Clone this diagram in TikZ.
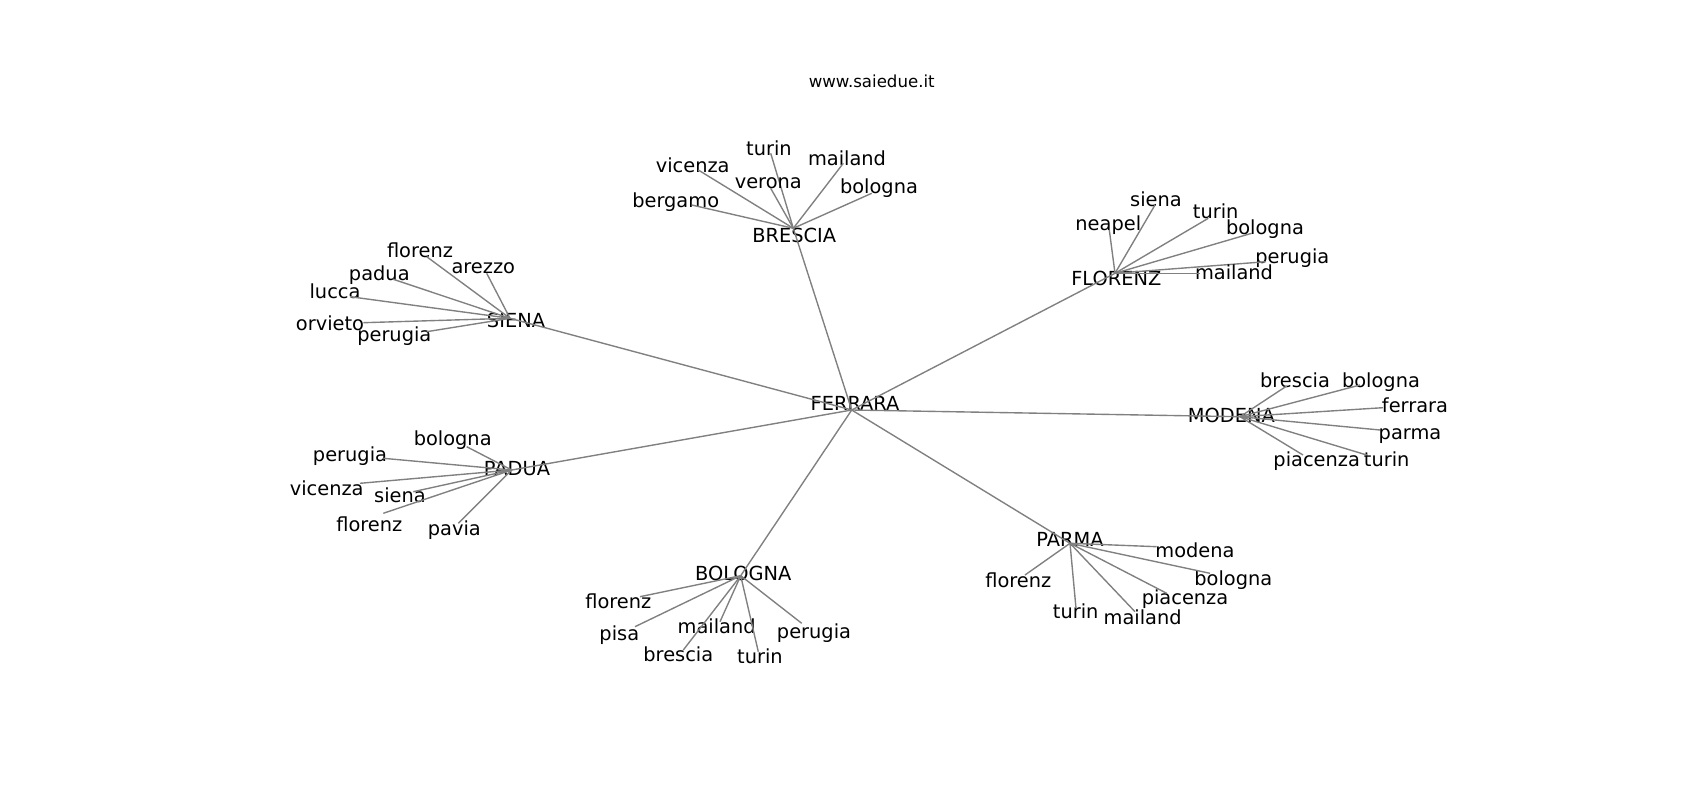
\documentclass[tikz,border=0pt]{standalone}
\usepackage{fontspec}
\setmainfont{DejaVu Sans}
\begin{document}
\begin{tikzpicture}[x=0.01in,y=-0.01in,
    road/.style={draw=black!50,line width=1pt},
    city/.style={inner sep=0pt,text height=0.76em,text depth=0.21em,yshift=-2.5pt,font=\fontsize{14}{17}\selectfont}]
		% Rahmen
		\useasboundingbox (0,0) rectangle (1700,800);
		% Titel
		\node[font=\fontsize{12}{14}\selectfont] (title) at (871.7,81.7) {www.saiedue.it};
		% Zentrum
		\coordinate (ferrara) at (851.7,410);
		\node[city] (ferrara-txt) at (855,403.3) {FERRARA};
		% Knoten um das Zentrum
		\coordinate (brescia) at (793.3,228.3);
		\coordinate (siena) at (510,318.3);
		\coordinate (florenz) at (1115,273.3);
		\coordinate (modena) at (1240,416.7);
		\coordinate (padua) at (511.7,470);
		\coordinate (bologna) at (740.7,575.7);
		\coordinate (parma) at (1070,543.3);
		\node[city] (brescia-txt) at (794.3,235) {BRESCIA};
		\node[city] (siena-txt) at (516,320) {SIENA};
		\node[city] (florenz-txt) at (1116.3,278.3) {FLORENZ};
		\node[city] (modena-txt) at (1231.3,415.7) {MODENA};
		\node[city] (padua-txt) at (517,468) {PADUA};
		\node[city] (bologna-txt) at (743.3,573.3) {BOLOGNA};
		\node[city] (parma-txt) at (1070,539.3) {PARMA};
		% Verbindungen vom Zentrum
		\foreach \h in {brescia,siena,florenz,modena,padua,bologna,parma}
			\draw[road] (ferrara) -- (\h);
		% Blaetter BRESCIA
		\foreach \t/\vx/\vy/\lx/\ly in {turin/770.7/153.3/769/148.3, vicenza/698.3/170/692.7/165,
			verona/770.7/188.3/768.3/181, mailand/843.3/163.3/847/158,
			bologna/871.7/193.3/879/186.7, bergamo/691.7/205/675.7/200}{
			\coordinate (brescia-\t) at (\vx,\vy);
			\node[city] (brescia-\t-txt) at (\lx,\ly) {\t};
			\draw[road] (brescia) -- (brescia-\t);
		}
		% Blaetter SIENA
		\foreach \t/\vx/\vy/\lx/\ly in {florenz/426.7/256.7/420/250, arezzo/486.7/273.3/483.3/266.7,
			padua/393.3/279.3/379.3/273.3, lucca/350/296.7/335/291.7,
			orvieto/363.3/322.7/330/323.3, perugia/426.7/331.7/394.3/334}{
			\coordinate (siena-\t) at (\vx,\vy);
			\node[city] (siena-\t-txt) at (\lx,\ly) {\t};
			\draw[road] (siena) -- (siena-\t);
		}
		% Blaetter FLORENZ
		\foreach \t/\vx/\vy/\lx/\ly in {neapel/1109.3/230/1108.3/223.3, siena/1155/205/1156/199.3,
			turin/1208.3/218.3/1215.7/211.7, bologna/1251.7/233.3/1265/227.7,
			perugia/1266/261.7/1292.3/256.7, mailand/1200/273.3/1234/272.3}{
			\coordinate (florenz-\t) at (\vx,\vy);
			\node[city] (florenz-\t-txt) at (\lx,\ly) {\t};
			\draw[road] (florenz) -- (florenz-\t);
		}
		% Blaetter MODENA
		\foreach \t/\vx/\vy/\lx/\ly in {brescia/1286.7/386/1295/380.7, bologna/1360/385/1381/380,
			ferrara/1383/407.7/1415/405.7, parma/1380/430/1410/432.7,
			turin/1366.7/455/1386.7/459.3, piacenza/1303/455/1316.7/459.3}{
			\coordinate (modena-\t) at (\vx,\vy);
			\node[city] (modena-\t-txt) at (\lx,\ly) {\t};
			\draw[road] (modena) -- (modena-\t);
		}
		% Blaetter PADUA
		\foreach \t/\vx/\vy/\lx/\ly in {bologna/466.7/446.7/452.7/438.3, perugia/383.3/458.3/350/454,
			vicenza/360/483.3/326.7/488.3, siena/413.3/491.7/400/495,
			florenz/383.3/513.3/369.3/524.3, pavia/458.3/523.3/454.3/528.3}{
			\coordinate (padua-\t) at (\vx,\vy);
			\node[city] (padua-\t-txt) at (\lx,\ly) {\t};
			\draw[road] (padua) -- (padua-\t);
		}
		% Blaetter BOLOGNA
		\foreach \t/\vx/\vy/\lx/\ly in {florenz/640/596.7/618.3/601.7, pisa/635/626.7/619.3/633.3,
			mailand/720/621.7/716.7/626.7, perugia/801.7/623.3/814/631.7,
			brescia/683.3/650/678.3/654.3, turin/758.3/651.7/760/656.7}{
			\coordinate (bologna-\t) at (\vx,\vy);
			\node[city] (bologna-\t-txt) at (\lx,\ly) {\t};
			\draw[road] (bologna) -- (bologna-\t);
		}
		% Blaetter PARMA
		\foreach \t/\vx/\vy/\lx/\ly in {modena/1156.7/546.7/1195/550.7, bologna/1210/573.3/1233.3/578.3,
			piacenza/1166.7/593.3/1185/597.3, florenz/1025/575/1018.3/580,
			turin/1076/608.3/1075.7/611.7, mailand/1135/611.7/1142.7/617.7}{
			\coordinate (parma-\t) at (\vx,\vy);
			\node[city] (parma-\t-txt) at (\lx,\ly) {\t};
			\draw[road] (parma) -- (parma-\t);
		}
	\end{tikzpicture}
\end{document}
